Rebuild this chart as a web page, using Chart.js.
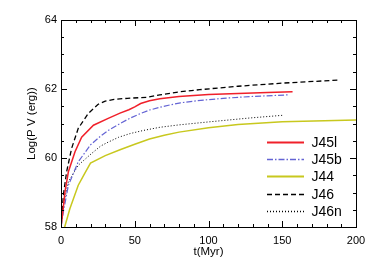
<!DOCTYPE html>
<html>
<head>
<meta charset="utf-8">
<script src="https://cdn.jsdelivr.net/npm/chart.js@4/dist/chart.umd.min.js"></script>
<style>
  html, body { margin: 0; padding: 0; background: #ffffff; }
  #wrap { width: 374px; height: 267px; }
</style>
</head>
<body>
<div id="wrap"><canvas id="c" width="374" height="267"></canvas></div>
<script>
// ---- data ----
const seriesNames = ["J45l", "J45b", "J44", "J46", "J46n"];

const j45lT = [0, 1, 2.7, 5, 9.5, 14, 22, 32, 40, 46, 50, 54, 60, 67, 80, 100, 120, 140, 157];
const j45lV = [58, 58.35, 59.02, 59.6, 60.18, 60.6, 60.95, 61.15, 61.3, 61.4, 61.48, 61.58, 61.66, 61.72, 61.78, 61.84, 61.87, 61.9, 61.92];

const j45bT = [0, 1.6, 5, 11.7, 20, 27, 32, 40, 47, 54, 60, 67, 74, 81, 92, 110, 128, 154];
const j45bV = [58, 58.44, 59.21, 59.89, 60.38, 60.64, 60.8, 61.0, 61.16, 61.29, 61.39, 61.47, 61.54, 61.6, 61.66, 61.73, 61.78, 61.83];

const j44T = [2.5, 6, 11.7, 16, 20, 30, 40, 50, 60, 70, 80, 100, 120, 150, 200];
const j44V = [58, 58.53, 59.21, 59.55, 59.85, 60.07, 60.24, 60.4, 60.55, 60.66, 60.75, 60.88, 60.97, 61.05, 61.1];

const j46T = [0, 1.6, 3.8, 7.2, 11.7, 18.5, 25, 30, 36, 45, 58, 67, 81, 94, 120, 150, 189];
const j46V = [58, 58.92, 59.6, 60.28, 60.86, 61.29, 61.55, 61.65, 61.7, 61.73, 61.76, 61.83, 61.92, 61.98, 62.08, 62.17, 62.26];

const j46nT = [0, 1.6, 5, 11.7, 20.7, 27, 32, 39, 47, 56, 67, 80, 101, 128, 151];
const j46nV = [58, 58.63, 59.31, 59.79, 60.13, 60.35, 60.46, 60.6, 60.71, 60.8, 60.89, 60.96, 61.05, 61.16, 61.24];

const xTicks = [0, 50, 100, 150, 200];
const yTicks = [58, 60, 62, 64];

// ---- build chart ----
function pts(t, v) { return t.map((x, i) => ({ x: x, y: v[i] })); }

const styles = [
  { color: "#f0202a", width: 1.5, dash: [] },
  { color: "#6464d4", width: 1.2, dash: [6, 2, 1.5, 2] },
  { color: "#c8c81e", width: 1.5, dash: [] },
  { color: "#000000", width: 1.3, dash: [5, 3] },
  { color: "#000000", width: 1.0, dash: [1, 2] }
];
const seriesData = [pts(j45lT, j45lV), pts(j45bT, j45bV), pts(j44T, j44V), pts(j46T, j46V), pts(j46nT, j46nV)];

const datasets = seriesNames.map((n, i) => ({
  label: n,
  data: seriesData[i],
  borderColor: styles[i].color,
  borderWidth: styles[i].width,
  borderDash: styles[i].dash,
  pointRadius: 0,
  fill: false,
  tension: 0
}));

const FONT = "'Liberation Sans', Arial, Helvetica, sans-serif";

const frameTicks = {
  id: 'frameTicks',
  afterDatasetsDraw(chart) {
    const ctx = chart.ctx;
    const a = chart.chartArea;
    const xs = chart.scales.x, ys = chart.scales.y;
    ctx.save();
    ctx.strokeStyle = '#000';
    ctx.lineWidth = 1;
    ctx.setLineDash([]);
    ctx.beginPath();
    for (let t = 0; t <= 200; t += 10) {
      const px = Math.round(xs.getPixelForValue(t)) + 0.5;
      const len = (t % 50 === 0) ? 6 : 3;
      ctx.moveTo(px, a.bottom); ctx.lineTo(px, a.bottom - len);
      ctx.moveTo(px, a.top); ctx.lineTo(px, a.top + len);
    }
    for (let v = 58; v <= 64.001; v += 0.5) {
      const py = Math.round(ys.getPixelForValue(v)) + 0.5;
      const len = (Math.abs(v % 2) < 1e-6) ? 6 : 3;
      ctx.moveTo(a.left, py); ctx.lineTo(a.left + len, py);
      ctx.moveTo(a.right, py); ctx.lineTo(a.right - len, py);
    }
    ctx.stroke();
    ctx.strokeRect(Math.round(a.left) + 0.5, Math.round(a.top) + 0.5,
                   Math.round(a.right - a.left), Math.round(a.bottom - a.top));

    // legend inside the plot
    const lx0 = a.right - 89, lx1 = a.right - 52, tx = a.right - 44.5;
    const y0 = a.top + 121.7, dy = 17.3;
    ctx.font = '14px ' + FONT;
    ctx.textBaseline = 'middle';
    ctx.textAlign = 'left';
    chart.data.datasets.forEach((ds, i) => {
      const y = Math.round(y0 + i * dy) + 0.5;
      ctx.strokeStyle = ds.borderColor;
      ctx.lineWidth = ds.borderWidth + 0.3;
      ctx.setLineDash(ds.borderDash || []);
      ctx.beginPath();
      ctx.moveTo(lx0, y); ctx.lineTo(lx1, y);
      ctx.stroke();
      ctx.setLineDash([]);
      ctx.fillStyle = '#000';
      ctx.fillText(ds.label, tx, y + 0.5);
    });
    ctx.restore();
  }
};

new Chart(document.getElementById('c'), {
  type: 'line',
  data: { datasets: datasets },
  options: {
    responsive: false,
    animation: false,
    events: [],
    layout: { padding: { top: 20, right: 18, left: 0, bottom: 0 } },
    plugins: { legend: { display: false }, tooltip: { enabled: false } },
    scales: {
      x: {
        type: 'linear', min: 0, max: 200,
        afterFit: s => { s.height = 40; },
        afterBuildTicks: s => { s.ticks = xTicks.map(v => ({ value: v })); },
        grid: { display: false, drawTicks: false },
        border: { display: false },
        ticks: { padding: 7, color: '#000', font: { family: FONT, size: 11 }, maxRotation: 0 },
        title: { display: true, text: 't(Myr)', color: '#000', font: { family: FONT, size: 11.5 }, padding: { top: 0, bottom: 8 } }
      },
      y: {
        type: 'linear', min: 58, max: 64,
        afterFit: s => { s.width = 61; },
        afterBuildTicks: s => { s.ticks = yTicks.map(v => ({ value: v })); },
        grid: { display: false, drawTicks: false },
        border: { display: false },
        ticks: { padding: 4, color: '#000', font: { family: FONT, size: 11 } },
        title: { display: true, text: 'Log(P V (erg))', color: '#000', font: { family: FONT, size: 11.5 }, padding: { top: 25, bottom: 0 } }
      }
    }
  },
  plugins: [frameTicks]
});
</script>
</body>
</html>
